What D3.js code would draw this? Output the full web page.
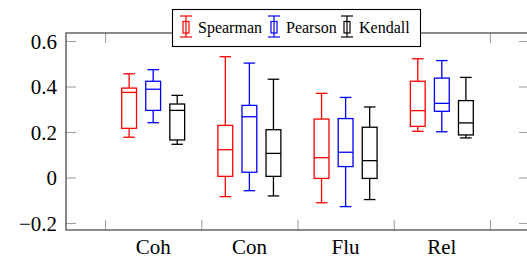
<!DOCTYPE html>
<html>
<head>
<meta charset="utf-8">
<script src="https://cdn.jsdelivr.net/npm/d3@7"></script>
</head>
<body style="margin:0;background:#fff">
<svg id="chart" width="527" height="259" style="display:block"></svg>
<script>
// ---- data ----
const categories = ["Coh", "Con", "Flu", "Rel"];
const seriesNames = ["Spearman", "Pearson", "Kendall"];
const seriesColors = ["#ff0000", "#0000ff", "#000000"];
// each entry: [lowerWhisker, q1, median, q3, upperWhisker] per category
const spearman = [
  [0.177, 0.216, 0.374, 0.393, 0.456],
  [-0.084, 0.005, 0.122, 0.229, 0.531],
  [-0.111, -0.004, 0.087, 0.257, 0.370],
  [0.203, 0.225, 0.294, 0.423, 0.522]
];
const pearson = [
  [0.241, 0.295, 0.388, 0.423, 0.474],
  [-0.058, 0.023, 0.267, 0.317, 0.503],
  [-0.128, 0.048, 0.111, 0.259, 0.352],
  [0.201, 0.291, 0.326, 0.437, 0.514]
];
const kendall = [
  [0.146, 0.165, 0.295, 0.323, 0.361],
  [-0.081, 0.005, 0.106, 0.210, 0.432],
  [-0.097, -0.004, 0.074, 0.221, 0.310],
  [0.174, 0.187, 0.240, 0.338, 0.440]
];
const yTickValues = [-0.2, 0, 0.2, 0.4, 0.6];
const yTickLabels = ["\u22120.2", "0", "0.2", "0.4", "0.6"];
const xTickValues = [-0.5, 0.5, 1.5, 2.5, 3.5];

const allSeries = [spearman, pearson, kendall];

// ---- layout ----
const FONT = "'Liberation Serif'";
const pL = 66, pR = 529, pT = 33, pB = 230;
const svg = d3.select("#chart");

const x = d3.scaleLinear().domain([-0.906, 3.906]).range([pL, pR]);
const y = d3.scaleLinear().domain([-0.2308, 0.6352]).range([pB, pT]);

const tickColor = "#a0a0a0";
const frameColor = "#4d4d4d";

// ticks (inward) on all four sides
const axL = svg.append("g").attr("transform", `translate(${pL},0)`)
  .call(d3.axisLeft(y).tickValues(yTickValues).tickSize(-10).tickPadding(9)
    .tickFormat((d, i) => yTickLabels[i]));
const axR = svg.append("g").attr("transform", `translate(${pR},0)`)
  .call(d3.axisRight(y).tickValues(yTickValues).tickSize(-10).tickFormat(""));
const axB = svg.append("g").attr("transform", `translate(0,${pB})`)
  .call(d3.axisBottom(x).tickValues(xTickValues).tickSize(-10).tickFormat(""));
const axT = svg.append("g").attr("transform", `translate(0,${pT})`)
  .call(d3.axisTop(x).tickValues(xTickValues).tickSize(-10).tickFormat(""));
[axL, axR, axB, axT].forEach(a => {
  a.attr("font-family", null).attr("font-size", null);
  a.select(".domain").remove();
  a.selectAll(".tick line").attr("stroke", tickColor).attr("stroke-width", 1.1);
});
axL.selectAll(".tick text").attr("fill", "#000").attr("dy", "0.34em")
  .style("font-family", FONT).style("font-size", "21px");

// category labels
svg.append("g").selectAll("text").data(categories).join("text")
  .attr("x", (d, i) => x(i)).attr("y", 254)
  .attr("text-anchor", "middle")
  .style("font-family", FONT).style("font-size", "21px").text(d => d);

// boxes
const offsets = [-0.25, 0, 0.25];
const boxHalf = 0.077, capHalf = 0.06;
const gBoxes = svg.append("g").attr("fill", "none").attr("stroke-width", 1.3);
allSeries.forEach((ser, si) => {
  const g = gBoxes.append("g").attr("stroke", seriesColors[si]);
  ser.forEach((s, ci) => {
    const cx = ci + offsets[si];
    const [lw, q1, med, q3, uw] = s;
    g.append("line").attr("x1", x(cx)).attr("x2", x(cx)).attr("y1", y(uw)).attr("y2", y(q3));
    g.append("line").attr("x1", x(cx)).attr("x2", x(cx)).attr("y1", y(q1)).attr("y2", y(lw));
    g.append("line").attr("x1", x(cx - capHalf)).attr("x2", x(cx + capHalf)).attr("y1", y(uw)).attr("y2", y(uw));
    g.append("line").attr("x1", x(cx - capHalf)).attr("x2", x(cx + capHalf)).attr("y1", y(lw)).attr("y2", y(lw));
    g.append("rect").attr("x", x(cx - boxHalf)).attr("width", x(cx + boxHalf) - x(cx - boxHalf))
      .attr("y", y(q3)).attr("height", y(q1) - y(q3));
    g.append("line").attr("x1", x(cx - boxHalf)).attr("x2", x(cx + boxHalf)).attr("y1", y(med)).attr("y2", y(med));
  });
});

// frame
svg.append("rect").attr("x", pL).attr("y", pT).attr("width", pR - pL).attr("height", pB - pT)
  .attr("fill", "none").attr("stroke", frameColor).attr("stroke-width", 1.3);

// legend
const lg = svg.append("g");
lg.append("rect").attr("x", 172.5).attr("y", 9.5).attr("width", 248).attr("height", 37)
  .attr("fill", "#fff").attr("stroke", "#000").attr("stroke-width", 1.1);
const iconX = [186, 274, 347];
seriesNames.forEach((name, i) => {
  const cx = iconX[i];
  const ig = lg.append("g").attr("stroke", seriesColors[i]).attr("fill", "none").attr("stroke-width", 1.2);
  ig.append("line").attr("x1", cx).attr("x2", cx).attr("y1", 16).attr("y2", 37);
  ig.append("line").attr("x1", cx - 6).attr("x2", cx + 6).attr("y1", 16).attr("y2", 16);
  ig.append("line").attr("x1", cx - 6).attr("x2", cx + 6).attr("y1", 37).attr("y2", 37);
  ig.append("rect").attr("x", cx - 3).attr("y", 21.5).attr("width", 6).attr("height", 11.5);
  lg.append("text").attr("x", cx + 12).attr("y", 33)
    .style("font-family", FONT).style("font-size", "16px").text(name);
});
</script>
</body>
</html>
